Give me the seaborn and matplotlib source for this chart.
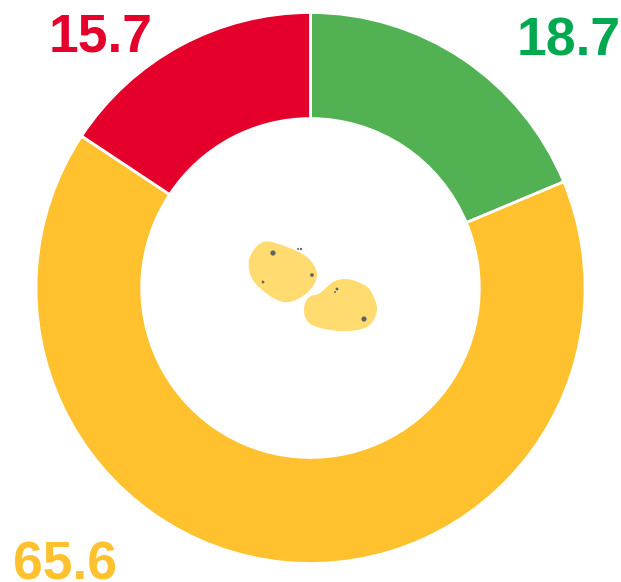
import matplotlib
matplotlib.use("Agg")
import matplotlib.pyplot as plt
from matplotlib.patches import PathPatch
from matplotlib.path import Path
import seaborn as sns

sns.set_theme(style="white")
plt.rcParams['font.family'] = ['Liberation Sans', 'DejaVu Sans']

# valori
categorii = ["verde", "galben", "rosu"]
valori = [18.7, 65.6, 15.7]
etichete = ["18.7", "65.6", "15.7"]
culori_felii = ["#52b153", "#ffc22e", "#e4002b"]
culori_text = ["#00a950", "#ffc22e", "#e4002b"]


def contur_neted(puncte):
    # contur inchis, Catmull-Rom transformat in curbe Bezier
    n = len(puncte)
    noduri = [puncte[0]]
    coduri = [Path.MOVETO]
    for i in range(n):
        p0, p1, p2, p3 = puncte[i - 1], puncte[i], puncte[(i + 1) % n], puncte[(i + 2) % n]
        c1 = (p1[0] + (p2[0] - p0[0]) / 6, p1[1] + (p2[1] - p0[1]) / 6)
        c2 = (p2[0] - (p3[0] - p1[0]) / 6, p2[1] - (p3[1] - p1[1]) / 6)
        noduri += [c1, c2, p2]
        coduri += [Path.CURVE4] * 3
    return Path(noduri, coduri)


W, H = 621, 582
fig = plt.figure(figsize=(W / 100, H / 100), dpi=100)

# axa in pixeli pentru desenul din centru si texte
ax = fig.add_axes([0, 0, 1, 1])
ax.set_xlim(0, W)
ax.set_ylim(H, 0)
ax.axis("off")

# inelul (conturul alb mananca 1px din raza)
cx, cy, rx, ry = 310.5, 288, 274.5, 275.5
ax_pie = fig.add_axes([(cx - rx) / W, 1 - (cy + ry) / H, 2 * rx / W, 2 * ry / H])
ax_pie.pie(valori, colors=culori_felii, startangle=90, counterclock=False, radius=1,
           wedgeprops=dict(width=0.385, edgecolor="white", linewidth=2))
ax_pie.set_aspect("auto")
ax_pie.set_xlim(-1, 1)
ax_pie.set_ylim(-1, 1)

# textele
ax.text(620.5, 55, etichete[0], color=culori_text[0], fontsize=38.5, fontweight="bold", ha="right", va="baseline", clip_on=False)
ax.text(13, 580, etichete[1], color=culori_text[1], fontsize=38.5, fontweight="bold", ha="left", va="baseline", clip_on=False)
ax.text(153, 51, etichete[2], color=culori_text[2], fontsize=38.5, fontweight="bold", ha="right", va="baseline", clip_on=False)

# cele doua forme din mijloc
forma1 = [(263, 242), (249, 260), (255, 283), (283, 302), (307, 293), (317, 275), (308, 258), (287, 247)]
forma2 = [(345, 279), (333, 282), (320, 293), (308, 298), (304, 312), (312, 325),
          (340, 331), (367, 327), (377, 310), (370, 290), (358, 282)]
for forma in (forma1, forma2):
    ax.add_patch(PathPatch(contur_neted(forma), facecolor="#ffdb70", edgecolor="none", zorder=3))

pete_x = [273, 312, 263, 301, 298, 364, 337, 335]
pete_y = [253, 275, 282, 249, 249, 319, 289, 292]
pete_s = [14, 7, 4, 3, 2, 14, 4, 2]
ax.scatter(pete_x, pete_y, s=pete_s, color="#5f6368", linewidths=0, zorder=4)

fig.savefig("out.png", dpi=100)
